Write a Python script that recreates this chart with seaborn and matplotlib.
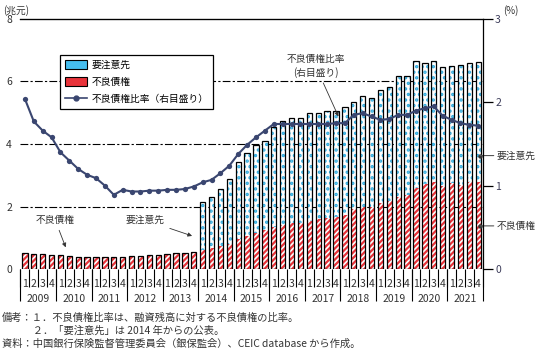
import numpy as np
import pandas as pd
import matplotlib.pyplot as plt
import seaborn as sns
from matplotlib.patches import Patch
from matplotlib.lines import Line2D

# data (trillion yuan / %)
years = list(range(2009, 2022))
quarters = ["1", "2", "3", "4"]

npl = [0.52, 0.49, 0.48, 0.46, 0.45, 0.42, 0.38, 0.38,
       0.38, 0.38, 0.39, 0.38, 0.42, 0.42, 0.44, 0.45,
       0.48, 0.50, 0.51, 0.53, 0.60, 0.66, 0.73, 0.80,
       0.96, 1.06, 1.14, 1.24, 1.34, 1.40, 1.46, 1.46,
       1.53, 1.59, 1.63, 1.67, 1.72, 1.91, 1.99, 1.97,
       2.10, 2.19, 2.31, 2.36, 2.59, 2.71, 2.79, 2.66,
       2.74, 2.69, 2.79, 2.79]
watch = [0, 0, 0, 0, 0, 0, 0, 0,
         0, 0, 0, 0, 0, 0, 0, 0,
         0, 0, 0, 0, 1.56, 1.63, 1.83, 2.09,
         2.46, 2.64, 2.82, 2.87, 3.21, 3.32, 3.36, 3.37,
         3.45, 3.41, 3.41, 3.39, 3.47, 3.42, 3.53, 3.49,
         3.63, 3.64, 3.87, 3.82, 4.05, 3.87, 3.85, 3.79,
         3.76, 3.83, 3.79, 3.82]
ratio = [2.04, 1.77, 1.66, 1.58, 1.40, 1.30, 1.20, 1.13,
         1.09, 1.00, 0.89, 0.95, 0.93, 0.93, 0.94, 0.94,
         0.95, 0.95, 0.96, 0.99, 1.04, 1.07, 1.15, 1.24,
         1.38, 1.49, 1.58, 1.66, 1.74, 1.74, 1.74, 1.74,
         1.74, 1.74, 1.74, 1.75, 1.75, 1.85, 1.87, 1.83,
         1.79, 1.80, 1.85, 1.85, 1.90, 1.93, 1.95, 1.84,
         1.79, 1.75, 1.73, 1.72]

df = pd.DataFrame({
    "period": [f"{y}Q{q}" for y in years for q in quarters],
    "npl": npl,
    "watch": watch,
    "ratio": ratio,
})
df["total"] = df["npl"] + df["watch"]
df["pos"] = np.arange(len(df))

red = "#e8333a"
blue = "#33ade0"
navy = "#3a4670"

plt.rcParams["font.family"] = ["Noto Sans CJK JP", "DejaVu Sans"]
plt.rcParams["hatch.linewidth"] = 1.6

fig = plt.figure(figsize=(5.38, 3.51), dpi=100, facecolor="white")
ax = fig.add_axes([0.0381, 0.2336, 0.859, 0.7123])

# stacked bars: hatch layers then the black outline
sns.barplot(data=df, x="period", y="total", color="white", edgecolor=blue,
            hatch="...", linewidth=0, width=0.6, saturation=1,
            errorbar=None, ax=ax)
sns.barplot(data=df, x="period", y="npl", color="white", edgecolor=red,
            hatch="//////", linewidth=0, width=0.6, saturation=1,
            errorbar=None, ax=ax)
sns.barplot(data=df, x="period", y="total", fill=False, color="black",
            linewidth=0.9, width=0.6, errorbar=None, ax=ax)

# right axis: NPL ratio
ax2 = ax.twinx()
sns.lineplot(data=df, x="pos", y="ratio", ax=ax2, color=navy, linewidth=1.5,
             marker="o", markersize=3.8, markeredgewidth=0)

n = len(df)
ax.set_xlim(-0.5, n - 0.5)
ax.set_ylim(0, 8)
ax2.set_ylim(0, 3)
ax.set_xlabel("")
ax.set_ylabel("")
ax2.set_xlabel("")
ax2.set_ylabel("")

for lvl in [2, 4, 6]:
    ax.axhline(lvl, color="black", lw=0.8, linestyle=(0, (7, 2, 2, 2)), zorder=0.5)

ax.set_yticks([0, 2, 4, 6, 8])
ax.tick_params(axis="y", length=0, pad=6, labelsize=7.5, labelcolor="#333333")
ax2.set_yticks([0, 1, 2, 3])
ax2.tick_params(axis="y", length=7, width=0.9, pad=2, labelsize=7.5,
                labelcolor="#3c3c5a")

for s in ["left", "bottom", "right"]:
    ax.spines[s].set_visible(False)
for s in ["left", "bottom"]:
    ax2.spines[s].set_visible(False)
ax2.spines["right"].set_linewidth(0.9)
ax2.spines["top"].set_linewidth(0.9)

# quarter separators and labels
ax.set_xticks(np.arange(n + 1) - 0.5)
ax.set_xticklabels([])
ax.tick_params(axis="x", which="major", length=13, width=0.8, color="black")
ax.set_xticks(np.arange(n), labels=quarters * len(years), minor=True)
ax.tick_params(axis="x", which="minor", length=0, pad=7, labelsize=7.5,
               labelcolor="#333333")

# year separators and labels
sec = ax.secondary_xaxis("bottom")
sec.set_xticks(np.arange(0, n + 1, 4) - 0.5)
sec.set_xticklabels([])
sec.tick_params(axis="x", which="major", length=23, width=0.8, color="black")
sec.set_xticks(np.arange(1.5, n, 4), labels=[str(y) for y in years], minor=True)
sec.tick_params(axis="x", which="minor", length=0, pad=18, labelsize=7.5,
                labelcolor="#333333")
sec.spines["bottom"].set_visible(False)

# legend
handles = [
    Patch(facecolor="#45bdee", edgecolor="black", linewidth=0.8, label="要注意先"),
    Patch(facecolor=red, edgecolor="black", linewidth=0.8, label="不良債権"),
    Line2D([], [], color=navy, lw=1.2, marker="o", markersize=3.5, label="不良債権比率（右目盛り）"),
]
leg = ax2.legend(handles=handles, loc="upper left", bbox_to_anchor=(0.075, 0.876),
                 fontsize=7, frameon=True, fancybox=False, edgecolor="black",
                 framealpha=1, borderpad=0.5, labelspacing=0.75,
                 handlelength=2.3, handleheight=1.0, handletextpad=0.4)
leg.get_frame().set_linewidth(0.9)

# annotations
arrow = dict(arrowstyle="-|>", color="#333333", lw=0.6, mutation_scale=6)
ax.annotate("不良債権", xy=(4.7, 0.61), xytext=(3.4, 1.57), fontsize=7,
            ha="center", va="center", color="#333333", arrowprops=arrow)
ax.annotate("要注意先", xy=(19.1, 1.03), xytext=(13.5, 1.57), fontsize=7,
            ha="center", va="center", color="#333333", arrowprops=arrow)
ax.annotate("不良債権比率\n(右目盛り)", xy=(35.4, 4.8), xytext=(32.7, 6.5),
            fontsize=7, ha="center", va="center", color="#333333",
            linespacing=1.3, arrowprops=arrow)

lead = dict(arrowstyle="-", color="#555555", lw=0.8, shrinkA=0, shrinkB=0)
for label, yv in [("要注意先", 3.63), ("不良債権", 1.38)]:
    ax.annotate(label, xy=(n - 0.8, yv), xytext=(1.03, yv),
                textcoords=("axes fraction", "data"), fontsize=7,
                ha="left", va="center", color="#333333", arrowprops=lead,
                annotation_clip=False)
    ax.plot(n - 0.8, yv, marker="o", markersize=2.2, color="#333333", clip_on=False)

fig.text(0.006, 0.985, "(兆元)", fontsize=7, ha="left", va="top", color="#333333")
fig.text(0.935, 0.985, "(%)", fontsize=7, ha="left", va="top", color="#333333")

notes = ("備考：１．不良債権比率は、融資残高に対する不良債権の比率。\n"
         "　　　２．「要注意先」は 2014 年からの公表。\n"
         "資料：中国銀行保険監督管理委員会（銀保監会）、CEIC database から作成。")
fig.text(0.004, 0.108, notes, fontsize=7.4, ha="left", va="top",
         color="#333333", linespacing=1.3)

fig.savefig("out.png", dpi=100, facecolor="white")
